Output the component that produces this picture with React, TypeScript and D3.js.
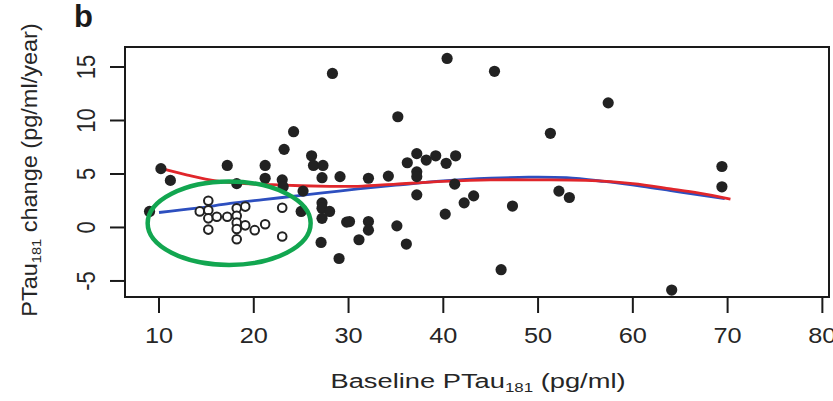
import React from "react";
import * as d3 from "d3";

// ---- data ----
const filledX = [9.0, 10.2, 11.2, 17.2, 18.2, 21.2, 21.2, 23.0, 23.1, 23.2, 24.2, 25.2, 25.0, 26.1, 26.3, 27.3, 27.2, 27.2, 27.2, 28.0, 27.2, 27.1, 28.3, 29.1, 29.8, 29.0, 30.1, 31.1, 32.1, 32.1, 32.1, 34.2, 35.2, 35.1, 36.1, 36.2, 37.2, 37.2, 37.2, 37.2, 38.2, 39.2, 40.3, 40.2, 40.4, 41.3, 41.2, 42.2, 43.2, 45.4, 46.1, 47.3, 51.3, 52.2, 53.3, 57.4, 64.1, 69.4, 69.4];
const filledY = [1.5, 5.5, 4.4, 5.8, 4.1, 5.8, 4.6, 4.45, 3.8, 7.3, 8.95, 3.4, 1.5, 6.7, 5.8, 5.8, 4.65, 2.3, 1.8, 1.5, 0.85, -1.4, 14.4, 4.75, 0.5, -2.9, 0.55, -1.15, 4.6, 0.55, -0.25, 4.8, 10.35, 0.15, -1.55, 6.05, 6.9, 5.2, 4.75, 3.05, 6.3, 6.7, 6.0, 1.25, 15.8, 6.7, 4.05, 2.3, 2.95, 14.6, -3.95, 2.0, 8.8, 3.4, 2.8, 11.65, -5.85, 5.7, 3.8];

const openX = [14.3, 15.2, 15.2, 15.2, 15.2, 16.1, 17.2, 18.2, 18.2, 18.2, 18.2, 18.2, 19.1, 19.1, 20.1, 21.2, 23.0, 23.0];
const openY = [1.5, 2.5, 1.6, 0.85, -0.2, 1.0, 1.0, 1.8, 1.1, 0.45, -0.15, -1.1, 1.95, 0.2, -0.25, 0.3, 1.85, -0.85];

const redX = [10.3, 13, 16, 19, 22, 25, 28, 31, 35, 40, 45, 50, 55, 60, 64, 67, 70.3];
const redY = [5.5, 4.9, 4.35, 4.1, 4.0, 3.9, 3.85, 3.85, 4.05, 4.3, 4.45, 4.45, 4.4, 4.1, 3.6, 3.2, 2.65];

const blueX = [10, 14, 17.5, 21, 25, 28, 31, 35, 40, 45, 49, 53, 57, 61, 64, 67, 69.7];
const blueY = [1.4, 1.8, 2.25, 2.6, 3.0, 3.3, 3.6, 3.95, 4.35, 4.6, 4.7, 4.65, 4.3, 3.85, 3.45, 3.05, 2.7];

const xTicks = [10, 20, 30, 40, 50, 60, 70, 80];
const yTicks = [-5, 0, 5, 10, 15];

// highlighted region (data units)
const ellipseCenter = [17.4, 0.4];
const ellipseRadii = [8.6, 3.9];

const W = 833;
const H = 401;
const box = { left: 125, right: 829, top: 47, bottom: 297 };
const FONT = "'Liberation Sans', Arial, Helvetica, sans-serif";
const INK = "#222";
const TXT = "#262626";

export default function App() {
  const x = d3.scaleLinear().domain([6.41, 80.7]).range([box.left, box.right]);
  const y = d3.scaleLinear().domain([-6.5, 16.87]).range([box.bottom, box.top]);

  const line = d3
    .line<[number, number]>()
    .x((d) => x(d[0]))
    .y((d) => y(d[1]))
    .curve(d3.curveCatmullRom.alpha(0.5));

  const red = line(redX.map((v, i) => [v, redY[i]] as [number, number])) || "";
  const blue = line(blueX.map((v, i) => [v, blueY[i]] as [number, number])) || "";

  const ex = x(ellipseCenter[0]);
  const ey = y(ellipseCenter[1]);
  const erx = x(ellipseCenter[0] + ellipseRadii[0]) - ex;
  const ery = ey - y(ellipseCenter[1] + ellipseRadii[1]);

  return (
    <svg
      width={W}
      height={H}
      style={{ position: "absolute", left: 0, top: 0, background: "#fff" }}
      fontFamily={FONT}
    >
      <rect x={0} y={0} width={W} height={H} fill="#fff" />
      {/* panel letter */}
      <text x={74} y={27} fontSize={31} fontWeight="bold" fill="#1a1a1a">
        b
      </text>

      {/* box */}
      <rect
        x={box.left}
        y={box.top}
        width={box.right - box.left}
        height={box.bottom - box.top}
        fill="none"
        stroke="#1a1a1a"
        strokeWidth={2}
      />

      {/* y ticks */}
      {yTicks.map((t) => (
        <g key={"y" + t}>
          <line x1={110} x2={box.left} y1={y(t)} y2={y(t)} stroke="#1a1a1a" strokeWidth={2} />
          <g transform={`translate(95,${y(t)}) rotate(-90) scale(1,1.18)`}>
            <text x={0} y={0} textAnchor="middle" fontSize={22} fill={TXT}>
              {t}
            </text>
          </g>
        </g>
      ))}

      {/* x ticks */}
      {xTicks.map((t) => (
        <g key={"x" + t}>
          <line x1={x(t)} x2={x(t)} y1={box.bottom} y2={313} stroke="#1a1a1a" strokeWidth={2} />
          <g transform={`translate(${x(t)},343) scale(1.15,1)`}>
            <text x={0} y={0} textAnchor="middle" fontSize={22} fill={TXT}>
              {t}
            </text>
          </g>
        </g>
      ))}

      {/* axis titles */}
      <g transform="translate(478,388) scale(1.3,1)">
        <text x={0} y={0} textAnchor="middle" fontSize={21} fill={TXT}>
          Baseline PTau
          <tspan fontSize={13} dy={4}>181</tspan>
          <tspan dy={-4}> (pg/ml)</tspan>
        </text>
      </g>
      <g transform="translate(37,170) rotate(-90) scale(1.12,1.05)">
        <text x={0} y={0} textAnchor="middle" fontSize={21} fill={TXT}>
          PTau
          <tspan fontSize={13} dy={4}>181</tspan>
          <tspan dy={-4}> change (pg/ml/year)</tspan>
        </text>
      </g>

      {/* fitted curves */}
      <path d={blue} fill="none" stroke="#2d4fbf" strokeWidth={2.8} />
      <path d={red} fill="none" stroke="#e0262b" strokeWidth={2.8} />

      {/* points */}
      {filledX.map((v, i) => (
        <circle key={"f" + i} cx={x(v)} cy={y(filledY[i])} r={5.6} fill={INK} />
      ))}
      {openX.map((v, i) => (
        <circle
          key={"o" + i}
          cx={x(v)}
          cy={y(openY[i])}
          r={4.3}
          fill="#fff"
          stroke={INK}
          strokeWidth={2}
        />
      ))}

      {/* highlight ellipse */}
      <ellipse cx={ex} cy={ey} rx={erx} ry={ery} fill="none" stroke="#12a650" strokeWidth={4.5} />
    </svg>
  );
}
